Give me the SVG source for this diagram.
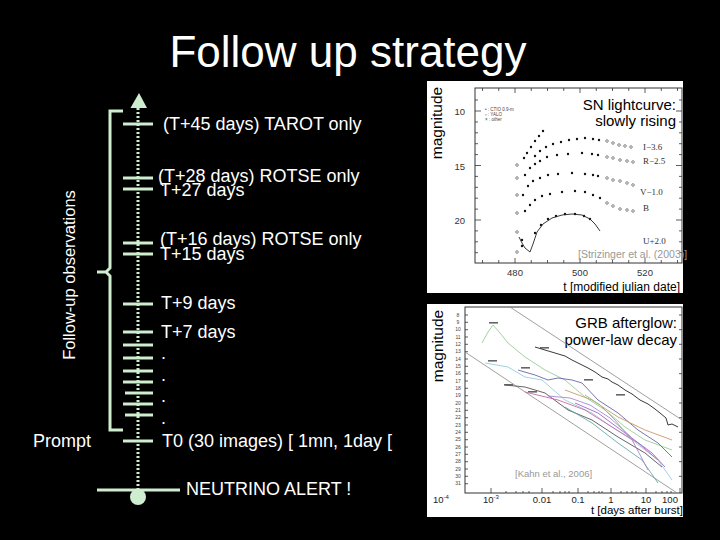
<svg xmlns="http://www.w3.org/2000/svg" width="720" height="540" viewBox="0 0 720 540">
<style>
.t{font-family:"Liberation Sans",Arial,sans-serif;fill:#fff;font-size:18px}
.tl{stroke:#cfeecf;fill:none;stroke-width:3}
.pl{font-family:"Liberation Sans",Arial,sans-serif;fill:#000}
.ax{fill:none;stroke:#333;stroke-width:1}
.tk{stroke:#333;stroke-width:0.8}
.sf{font-family:"Liberation Serif","Times New Roman",serif;fill:#333;font-size:9px}
.fd{fill:#111}
.od{fill:none;stroke:#555;stroke-width:0.7}
.c{fill:none;stroke-width:0.9}
.gl{stroke:#888;stroke-width:0.8}
</style>
<defs>
<circle id="d" r="1.2"/>
<circle id="o" r="1.3"/>
</defs>
<rect width="720" height="540" fill="#000"/>
<g id="title"><text x="348" y="67" class="t" style="font-size:44px" text-anchor="middle">Follow up strategy</text></g>

<g id="connectors">
<line x1="138" y1="108" x2="138" y2="490" class="tl" stroke-dasharray="2 2"/>
<polygon points="139,93 130.5,108 147,108" fill="#cfeecf"/>
<path d="M123,111 H110 V268 L106,272 H97 M106,272 L110,276 V430 H123" class="tl"/>
<line x1="97" y1="490" x2="180" y2="490" class="tl"/>
<circle cx="138" cy="497" r="8" fill="#cfeecf"/>
<g class="tl">
<line x1="123" y1="124" x2="153" y2="124"/>
<line x1="123" y1="178" x2="153" y2="178"/>
<line x1="123" y1="189" x2="153" y2="189"/>
<line x1="123" y1="243" x2="153" y2="243"/>
<line x1="123" y1="254" x2="153" y2="254"/>
<line x1="123" y1="304" x2="153" y2="304"/>
<line x1="123" y1="332" x2="153" y2="332"/>
<line x1="123" y1="345" x2="153" y2="345"/>
<line x1="123" y1="358" x2="153" y2="358"/>
<line x1="123" y1="371" x2="153" y2="371"/>
<line x1="123" y1="382" x2="153" y2="382"/>
<line x1="125" y1="393" x2="153" y2="393"/>
<line x1="123" y1="404" x2="153" y2="404"/>
<line x1="125" y1="415" x2="153" y2="415"/>
<line x1="123" y1="441" x2="153" y2="441"/>
</g>
</g>

<g id="labels">
<text class="t" x="163" y="130">(T+45 days) TAROT only</text>
<text class="t" x="158" y="182">(T+28 days) ROTSE only</text>
<text class="t" x="160" y="196">T+27 days</text>
<text class="t" x="160" y="244.5">(T+16 days) ROTSE only</text>
<text class="t" x="160" y="260">T+15 days</text>
<text class="t" x="161" y="308.5">T+9 days</text>
<text class="t" x="161" y="337.5">T+7 days</text>
<text class="t" x="161" y="359">.</text>
<text class="t" x="161" y="380.5">.</text>
<text class="t" x="161" y="402">.</text>
<text class="t" x="161" y="423.5">.</text>
<text class="t" x="162" y="447">T0 (30 images) [ 1mn, 1day [</text>
<text class="t" x="186" y="495">NEUTRINO ALERT !</text>
<text class="t" x="33" y="447">Prompt</text>
<text class="t" style="font-size:16.5px" text-anchor="middle" transform="translate(75,275) rotate(-90)">Follow-up observations</text>
</g>

<g id="sn-plot">
<rect x="427" y="81" width="256" height="212" fill="#fff"/>
<rect x="475" y="88" width="207" height="175" class="ax"/>
<path class="tk" d="M515,263v-5M580,263v-5M645,263v-5M482.5,263v-3M498.75,263v-3M531.25,263v-3M547.5,263v-3M563.75,263v-3M596.25,263v-3M612.5,263v-3M628.75,263v-3M661.25,263v-3M677.5,263v-3
M515,88v5M580,88v5M645,88v5M482.5,88v3M498.75,88v3M531.25,88v3M547.5,88v3M563.75,88v3M596.25,88v3M612.5,88v3M628.75,88v3M661.25,88v3M677.5,88v3
M475,111h6M475,165.5h6M475,220h6M475,100h3M475,122h3M475,132.8h3M475,143.7h3M475,154.6h3M475,176.4h3M475,187.3h3M475,198.2h3M475,209.1h3M475,230.9h3M475,241.8h3M475,252.7h3
M682,111h-6M682,165.5h-6M682,220h-6M682,100h-3M682,122h-3M682,132.8h-3M682,143.7h-3M682,154.6h-3M682,176.4h-3M682,187.3h-3M682,198.2h-3M682,209.1h-3M682,230.9h-3M682,241.8h-3M682,252.7h-3"/>
<g class="pl" style="font-size:9.5px;fill:#333" text-anchor="end">
<text x="465" y="115">10</text><text x="465" y="169.5">15</text><text x="465" y="224">20</text>
</g>
<g class="pl" style="font-size:9.5px;fill:#333" text-anchor="middle">
<text x="515" y="276">480</text><text x="580" y="276">500</text><text x="645" y="276">520</text>
</g>
<text class="pl" x="680" y="291" style="font-size:12px" text-anchor="end">t [modified julian date]</text>
<text class="pl" style="font-size:15.5px" text-anchor="middle" transform="translate(442,123) rotate(-90)">magnitude</text>
<text class="pl" x="676" y="110" style="font-size:15px" text-anchor="end">SN lightcurve:</text>
<text class="pl" x="676" y="126" style="font-size:15px" text-anchor="end">slowly rising</text>
<text class="pl" x="578" y="258" style="font-size:10.5px;fill:#999">[Strizinger et al. (2003)]</text>
<g class="pl" style="font-size:4.5px;fill:#444">
<text x="485" y="111">• : CTIO 0.9-m</text>
<text x="485" y="116">▫ : YALO</text>
<text x="485" y="121">× : other</text>
</g>
<g class="sf">
<text x="643" y="150">I−3.6</text>
<text x="643" y="164">R−2.5</text>
<text x="640" y="195">V−1.0</text>
<text x="643" y="211">B</text>
<text x="643" y="244">U+2.0</text>
</g>
<g class="fd">
<use href="#d" x="524" y="158"/><use href="#d" x="527" y="153"/><use href="#d" x="531" y="147"/><use href="#d" x="535" y="141"/><use href="#d" x="539" y="136"/><use href="#d" x="543" y="131"/>
<use href="#d" x="535" y="156"/><use href="#d" x="540" y="151"/><use href="#d" x="546" y="147"/><use href="#d" x="553" y="144"/><use href="#d" x="561" y="142"/><use href="#d" x="569" y="140"/><use href="#d" x="577" y="139"/><use href="#d" x="585" y="138"/><use href="#d" x="593" y="139"/><use href="#d" x="599" y="140"/>
<use href="#d" x="525" y="175"/><use href="#d" x="530" y="168"/><use href="#d" x="535" y="164"/><use href="#d" x="540" y="161"/><use href="#d" x="547" y="157"/><use href="#d" x="557" y="155"/><use href="#d" x="568" y="154"/><use href="#d" x="582" y="153"/><use href="#d" x="592" y="154"/><use href="#d" x="598" y="155"/>
<use href="#d" x="523" y="195"/><use href="#d" x="528" y="186"/><use href="#d" x="533" y="181"/><use href="#d" x="540" y="178"/><use href="#d" x="548" y="175"/><use href="#d" x="558" y="174"/><use href="#d" x="572" y="173"/><use href="#d" x="585" y="174"/><use href="#d" x="593" y="175"/><use href="#d" x="598" y="176"/>
<use href="#d" x="525" y="211"/><use href="#d" x="530" y="205"/><use href="#d" x="535" y="200"/><use href="#d" x="542" y="196"/><use href="#d" x="550" y="194"/><use href="#d" x="562" y="192"/><use href="#d" x="575" y="191"/><use href="#d" x="585" y="192"/><use href="#d" x="593" y="195"/><use href="#d" x="600" y="198"/>
<use href="#d" x="522" y="240"/><use href="#d" x="522" y="246"/><use href="#d" x="535" y="233"/><use href="#d" x="541" y="225"/><use href="#d" x="548" y="219"/><use href="#d" x="556" y="216"/><use href="#d" x="565" y="214"/><use href="#d" x="575" y="214"/><use href="#d" x="584" y="216"/><use href="#d" x="590" y="219"/>
</g>
<polyline class="c" stroke="#222" points="519,237 522,243 525,248 530,252 533,244 537,232 543,224 552,218 562,215 572,214 582,215 590,219 595,224 600,231"/>
<g class="od">
<use href="#o" x="607" y="141"/><use href="#o" x="613" y="143"/><use href="#o" x="619" y="145"/><use href="#o" x="625" y="146"/><use href="#o" x="631" y="147"/>
<use href="#o" x="607" y="157"/><use href="#o" x="613" y="158"/><use href="#o" x="620" y="160"/><use href="#o" x="627" y="161"/><use href="#o" x="633" y="162"/>
<use href="#o" x="607" y="178"/><use href="#o" x="613" y="180"/><use href="#o" x="620" y="181"/><use href="#o" x="627" y="183"/><use href="#o" x="633" y="185"/>
<use href="#o" x="607" y="203"/><use href="#o" x="613" y="206"/><use href="#o" x="620" y="209"/><use href="#o" x="627" y="210"/><use href="#o" x="633" y="211"/>
<use href="#o" x="517" y="165"/><use href="#o" x="517" y="178"/><use href="#o" x="517" y="195"/><use href="#o" x="517" y="213"/><use href="#o" x="517" y="232"/><use href="#o" x="517" y="252"/>
</g>
</g>

<g id="grb-plot">
<rect x="427" y="304" width="256" height="213" fill="#fff"/>
<rect x="465" y="307" width="217" height="186" class="ax"/>
<path class="tk" d="M465,315h3M465,322.3h3M465,329.7h3M465,337h3M465,344.3h3M465,351.7h3M465,359h3M465,366.3h3M465,373.7h3M465,381h3M465,388.3h3M465,395.7h3M465,403h3M465,410.3h3M465,417.7h3M465,425h3M465,432.3h3M465,439.7h3M465,447h3M465,454.3h3M465,461.7h3M465,469h3M465,476.3h3M465,483.7h3
M682,315h-3M682,329.7h-3M682,344.3h-3M682,359h-3M682,373.7h-3M682,388.3h-3M682,403h-3M682,417.7h-3M682,432.3h-3M682,447h-3M682,461.7h-3M682,476.3h-3
M491,493v-5M542,493v-5M578,493v-5M611,493v-5M646,493v-5M680,493v-5M506,493v-2M516,493v-2M523,493v-2M529,493v-2M553,493v-2M560,493v-2M565,493v-2M569,493v-2M588,493v-2M594,493v-2M599,493v-2M602,493v-2M621,493v-2M627,493v-2M632,493v-2M636,493v-2M656,493v-2M662,493v-2M667,493v-2M671,493v-2"/>
<g class="pl" style="font-size:5px;fill:#444" text-anchor="middle">
<text x="458" y="316.5">8</text><text x="458" y="323.8">9</text><text x="458" y="331.2">10</text><text x="458" y="338.5">11</text><text x="458" y="345.8">12</text><text x="458" y="353.2">13</text><text x="458" y="360.5">14</text><text x="458" y="367.8">15</text><text x="458" y="375.2">16</text><text x="458" y="382.5">17</text><text x="458" y="389.8">18</text><text x="458" y="397.2">19</text><text x="458" y="404.5">20</text><text x="458" y="411.8">21</text><text x="458" y="419.2">22</text><text x="458" y="426.5">23</text><text x="458" y="433.8">24</text><text x="458" y="441.2">25</text><text x="458" y="448.5">26</text><text x="458" y="455.8">27</text><text x="458" y="463.2">28</text><text x="458" y="470.5">29</text><text x="458" y="477.8">30</text><text x="458" y="485.2">31</text>
</g>
<g class="pl" style="font-size:9.5px;fill:#222" text-anchor="middle">
<text x="441" y="502.5">10<tspan font-size="6" dy="-3.5">-4</tspan></text>
<text x="491" y="502.5">10<tspan font-size="6" dy="-3.5">-3</tspan></text>
<text x="542" y="502.5">0.01</text>
<text x="578" y="502.5">0.1</text>
<text x="611" y="502.5">1</text>
<text x="646" y="502.5">10</text>
<text x="670" y="502.5">100</text>
</g>
<text class="pl" x="683" y="514" style="font-size:11.5px" text-anchor="end">t [days after burst]</text>
<text class="pl" style="font-size:15.5px" text-anchor="middle" transform="translate(443,346) rotate(-90)">magnitude</text>
<text class="pl" x="677" y="328" style="font-size:15px" text-anchor="end">GRB afterglow:</text>
<text class="pl" x="677" y="345" style="font-size:15px" text-anchor="end">power-law decay</text>
<text class="pl" x="515" y="477" style="font-size:9.5px;fill:#999">[Kahn et al., 2006]</text>
<g class="gl">
<line x1="510" y1="307" x2="682" y2="420"/>
<line x1="465" y1="352" x2="677" y2="493"/>
</g>
<g fill="#666">
<rect x="489" y="322" width="9" height="1.6"/><rect x="540" y="347" width="9" height="1.6"/><rect x="488" y="360" width="9" height="1.6"/><rect x="521" y="367" width="9" height="1.6"/><rect x="504" y="384" width="9" height="1.6"/><rect x="528" y="391" width="9" height="1.6"/><rect x="584" y="379" width="9" height="1.6"/><rect x="616" y="394" width="9" height="1.6"/>
</g>
<polyline class="c" stroke="#9c9" points="482,343 488,332 493,325 500,333 508,343 525,357 545,370 565,380 585,397 605,410 625,427 645,440 672,450"/>
<polyline class="c" stroke="#9cd" points="485,363 508,367 525,377 542,380 565,400 592,413 612,427 632,440 658,460 672,480"/>
<polyline class="c" stroke="#66a" points="518,370 535,375 548,380 558,378 572,380 582,383 598,400 618,413 638,430 658,443 672,457"/>
<polyline class="c" stroke="#555" points="505,385 525,387 545,393 568,410 592,420 618,437 645,453 662,467"/>
<polyline class="c" stroke="#c6a" points="525,392 558,400 585,410 612,427 638,443 658,460"/>
<polyline class="c" stroke="#c96" points="565,390 592,400 618,417 645,430 672,440"/>
<polyline class="c" stroke="#96c" points="575,403 598,413 625,433 652,453 665,467"/>
<polyline class="c" stroke="#6aa" points="565,407 592,423 618,443 642,460 658,483"/>
<polyline class="c" stroke="#a8c" points="548,396 570,398 590,405 610,418 630,436 648,470"/>
<polyline class="c" stroke="#8b8" points="585,395 600,405 615,420 630,438"/>
<polyline class="c" stroke="#222" points="535,347 545,350 555,353 565,356 572,360 580,364 588,368 595,372 602,377 608,379 612,382 618,385 625,390 632,394 640,400 648,404 655,409 660,413 666,418 668,425 672,424 678,427"/>
</g>
</svg>
